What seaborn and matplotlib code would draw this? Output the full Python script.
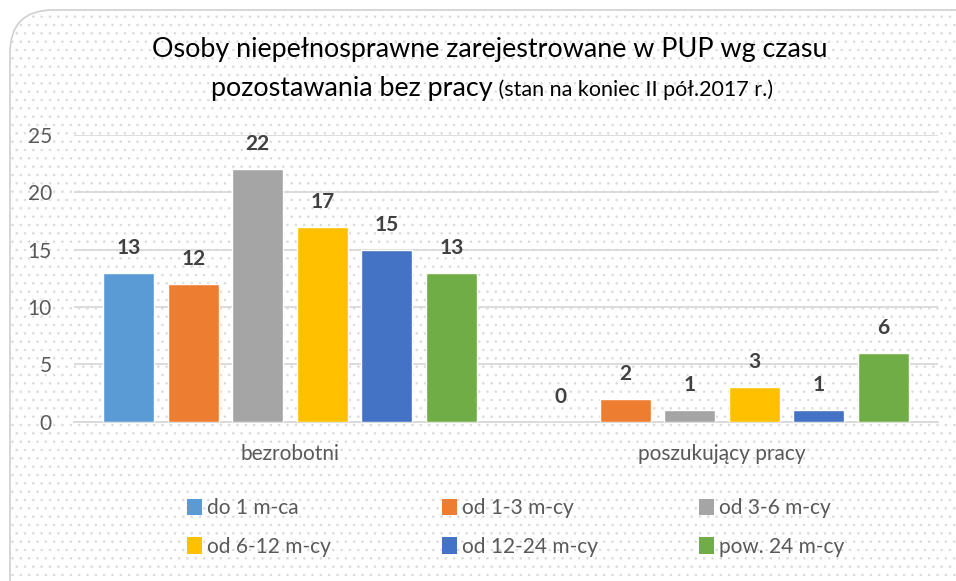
import matplotlib
matplotlib.use("Agg")
import matplotlib.pyplot as plt
from matplotlib.patches import FancyBboxPatch, Patch
import seaborn as sns
import pandas as pd

categories = ["bezrobotni", "poszukujący pracy"]
series = ["do 1 m-ca", "od 1-3 m-cy", "od 3-6 m-cy", "od 6-12 m-cy", "od 12-24 m-cy", "pow. 24 m-cy"]
bezrobotni = [13, 12, 22, 17, 15, 13]
poszukujacy = [0, 2, 1, 3, 1, 6]
colors = ["#5B9BD5", "#ED7D31", "#A5A5A5", "#FFC000", "#4472C4", "#70AD47"]
yticks = [0, 5, 10, 15, 20, 25]
title1 = "Osoby niepełnosprawne zarejestrowane w PUP wg czasu"
title2a = "pozostawania bez pracy"
title2b = " (stan na koniec II pół.2017 r.)"

rows = []
for s, v in zip(series, bezrobotni):
    rows.append({"cat": categories[0], "ser": s, "val": v})
for s, v in zip(series, poszukujacy):
    rows.append({"cat": categories[1], "ser": s, "val": v})
df = pd.DataFrame(rows)

sns.set_style("white")
FONT = ["Lato", "DejaVu Sans"]
plt.rcParams["font.family"] = FONT
TXT = "#595959"
FS = 15

W, H = 956, 581
fig = plt.figure(figsize=(W / 100, H / 100), dpi=100)
fig.patch.set_facecolor("white")

# background frame with subtle pattern
plt.rcParams["hatch.linewidth"] = 0.6
bg = FancyBboxPatch((10 / W, -0.2), 1.2, (H - 10) / H + 0.2,
                    boxstyle="round,pad=0,rounding_size=0.045",
                    transform=fig.transFigure, facecolor="white",
                    edgecolor="#dadada", hatch="..", linewidth=0, zorder=-2,
                    mutation_aspect=W / H)
fig.patches.append(bg)
border = FancyBboxPatch((10 / W, -0.2), 1.2, (H - 10) / H + 0.2,
                        boxstyle="round,pad=0,rounding_size=0.045",
                        transform=fig.transFigure, facecolor="none",
                        edgecolor="#d0d0d0", linewidth=1.2, zorder=-1,
                        mutation_aspect=W / H)
fig.patches.append(border)

ax = fig.add_axes([74 / W, (H - 421.7) / H, 864 / W, (421.7 - 135) / H])
ax.set_facecolor("none")

sns.barplot(data=df, x="cat", y="val", hue="ser", order=categories,
            hue_order=series, palette=colors, width=0.896, gap=0.21,
            saturation=1, ax=ax, legend=False, zorder=3)

ax.set_ylim(0, 25)
ax.set_xlim(-0.5, 1.5)
ax.set_yticks(yticks)
ax.set_yticklabels([str(t) for t in yticks])
ax.yaxis.grid(True, color="#d9d9d9", linewidth=1.3, zorder=0)
ax.set_axisbelow(True)
for sp in ["top", "right", "left"]:
    ax.spines[sp].set_visible(False)
ax.spines["bottom"].set_color("#d9d9d9")
ax.spines["bottom"].set_linewidth(1.3)
ax.tick_params(axis="y", length=0, pad=16, labelsize=FS, labelcolor=TXT)
ax.tick_params(axis="x", length=0, pad=16, labelsize=FS, labelcolor=TXT)
ax.set_xlabel("")
ax.set_ylabel("")

for cont in ax.containers:
    for bar in cont:
        h = bar.get_height()
        x = bar.get_x() + bar.get_width() / 2
        ax.annotate(f"{int(round(h))}", (x, h), xytext=(0, 18),
                    textcoords="offset points", ha="center", va="center",
                    fontsize=FS, fontweight="bold", color="#404040")

# Title
t1 = fig.text(490 / W, 1 - 50 / H, title1, ha="center", va="center",
              fontsize=19.4, color="black")
ta = fig.text(0, 1 - 88 / H, title2a, ha="left", va="baseline",
              fontsize=19.4, color="black")
tb = fig.text(0, 1 - 88 / H, title2b, ha="left", va="baseline",
              fontsize=15.5, color="black")
fig.canvas.draw()
r = fig.canvas.get_renderer()
wa = ta.get_window_extent(r).width
wb = tb.get_window_extent(r).width
x0 = 492 - (wa + wb) / 2
base_y = 1 - 96 / H
ta.set_position((x0 / W, base_y))
tb.set_position(((x0 + wa) / W, base_y))

# Legend: 3 fixed-width columns, 2 rows (row-major order)
col_x = [187, 442, 699]
for c in range(3):
    idx = [c, c + 3]
    handles = [Patch(facecolor=colors[i], edgecolor="none") for i in idx]
    labels = [series[i] for i in idx]
    fig.legend(handles, labels, loc="center left",
               bbox_to_anchor=(col_x[c] / W, 1 - 527.5 / H),
               ncol=1, frameon=False, fontsize=FS, labelcolor=TXT,
               handlelength=0.72, handleheight=0.85, handletextpad=0.25,
               labelspacing=0.9, borderpad=0, borderaxespad=0)

fig.savefig("out.png", dpi=100)
